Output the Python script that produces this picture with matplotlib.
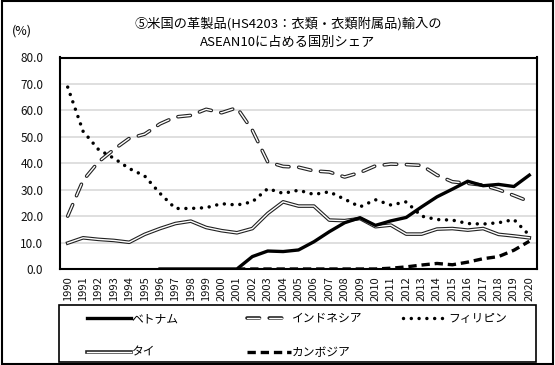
import numpy as np
import matplotlib
matplotlib.use("Agg")
import matplotlib.pyplot as plt
from matplotlib.patches import Rectangle

plt.rcParams['font.family'] = ['Noto Sans CJK JP', 'DejaVu Sans']
plt.rcParams['lines.scale_dashes'] = False

nan = np.nan
years = list(range(1990, 2021))

vietnam = [nan, nan, nan, nan, nan, nan, 0.0, 0.0, 0.0, 0.0, 0.0, 0.0,
           4.7, 6.8, 6.6, 7.2, 10.3, 14.1, 17.5, 19.4, 16.5,
           18.2, 19.5, 23.5, 27.3, 30.2, 33.2, 31.5, 32.0, 31.2, 35.5]
indonesia = [20.0, 33.5, 40.5, 45.2, 49.4, 51.0, 54.9, 57.5, 58.1, 60.4, 59.1,
             61.0, 52.5, 40.5, 38.8, 38.5, 37.1, 36.7, 34.8, 36.5, 39.0,
             39.7, 39.5, 39.2, 35.5, 33.0, 32.4, 31.7, 30.0, 27.8, 25.5]
philippines = [68.8, 52.1, 45.2, 41.9, 38.0, 35.2, 28.6, 22.9, 22.9, 23.2, 24.7,
               24.2, 25.4, 30.4, 28.6, 29.8, 28.2, 29.2, 26.4, 23.5, 26.2,
               24.2, 25.4, 20.0, 18.7, 18.5, 17.2, 17.0, 17.5, 18.7, 12.8]
thailand = [9.8, 11.8, 11.2, 10.8, 10.1, 13.1, 15.3, 17.2, 18.1, 15.7, 14.5,
            13.7, 15.3, 21.0, 25.4, 23.8, 23.8, 18.5, 18.3, 19.1, 16.0,
            16.6, 13.2, 13.2, 15.1, 15.3, 14.7, 15.3, 13.1, 12.5, 11.8]
cambodia = [nan, nan, nan, nan, nan, nan, nan, nan, nan, nan, nan,
            0.0, 0.0, 0.0, 0.0, 0.0, 0.0, 0.0, 0.0, 0.0, 0.0,
            0.3, 0.8, 1.5, 2.1, 1.6, 2.6, 3.9, 4.7, 7.1, 10.5]

labels = ['ベトナム', 'インドネシア', 'フィリピン', 'タイ', 'カンボジア']
title = '⑤米国の革製品(HS4203：衣類・衣類附属品)輸入の\nASEAN10に占める国別シェア'

fig = plt.figure(figsize=(5.55, 3.65), dpi=100)
ax = fig.add_axes([60 / 555, 1 - 269 / 365, 477 / 555, 211.5 / 365])

# Vietnam - thick solid
l_vn, = ax.plot(years, vietnam, color='black', lw=2.4, solid_joinstyle='round', zorder=6)

# Indonesia - compound dashed (dark outline, white core)
ind_dash = (9, 7)
l_id_o, = ax.plot(years, indonesia, color='#222222', lw=2.6, dashes=ind_dash,
                  dash_capstyle='round', zorder=3)
l_id_i, = ax.plot(years, indonesia, color='white', lw=1.0, dashes=ind_dash,
                  dash_capstyle='round', zorder=3.1)

# Philippines - round dots
l_ph, = ax.plot(years, philippines, color='black', lw=2.5, dashes=(0.01, 5.6),
                dash_capstyle='round', zorder=4)

# Thailand - compound solid
l_th_o, = ax.plot(years, thailand, color='#222222', lw=2.6, zorder=5)
l_th_i, = ax.plot(years, thailand, color='white', lw=1.0, zorder=5.1)

# Cambodia - thick dashes
l_kh, = ax.plot(years, cambodia, color='black', lw=2.4, dashes=(6, 3.5), zorder=7)

ax.set_xlim(1989.5, 2020.5)
ax.set_ylim(0, 80)
ax.set_yticks(np.arange(0, 81, 10))
ax.set_yticklabels([f'{v:.1f}' for v in np.arange(0, 81, 10)], fontsize=8.5)
ax.set_xticks(years)
ax.set_xticklabels([str(y) for y in years], rotation=90, fontsize=8)
ax.tick_params(axis='both', length=0, colors='#111111')
ax.tick_params(axis='y', pad=12)
ax.tick_params(axis='x', pad=5)
ax.grid(axis='y', color='#d9d9d9', lw=1.2)
ax.set_axisbelow(True)
for s in ax.spines.values():
    s.set_linewidth(1.5)
    s.set_color('black')

fig.text(288 / 555, 1 - 33 / 365, title, ha='center', va='center',
         fontsize=9.5, linespacing=1.5)
fig.text(22 / 555, 1 - 31 / 365, '(%)', ha='center', va='center', fontsize=9)

# legend: three single-column groups inside one frame
groups = [
    ([l_vn, (l_th_o, l_th_i)], [labels[0], labels[3]], 87),
    ([(l_id_o, l_id_i), l_kh], [labels[1], labels[4]], 247),
    ([l_ph], [labels[2]], 403),
]
for hs, ns, x0 in groups:
    fig.legend(hs, ns, loc='upper left',
               bbox_to_anchor=(x0 / 555, 1 - 312 / 365),
               fontsize=8.5, frameon=False, handlelength=3.7,
               handletextpad=0.1, borderpad=0, borderaxespad=0,
               labelspacing=1.75)

fig.patches.append(Rectangle((59 / 555, 1 - 362 / 365), 477 / 555, 57 / 365,
                             transform=fig.transFigure, fill=False,
                             edgecolor='black', lw=1.2))
fig.patches.append(Rectangle((0.003, 0.004), 0.994, 0.992, transform=fig.transFigure,
                             fill=False, edgecolor='black', lw=1.5))

fig.savefig('out.png', dpi=100)
